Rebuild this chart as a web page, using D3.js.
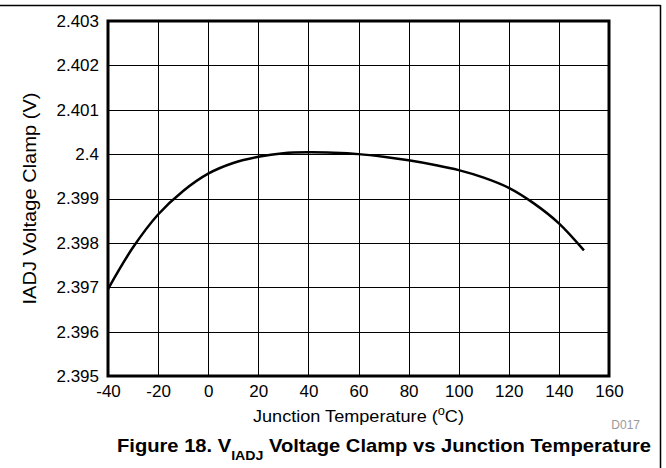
<!DOCTYPE html>
<html>
<head>
<meta charset="utf-8">
<script src="https://cdn.jsdelivr.net/npm/d3@7"></script>
<style>
body { margin: 0; background: #fff; }
text { font-family: "Liberation Sans", Arial, sans-serif; }
</style>
</head>
<body>
<script>
var W = 666, H = 468;
var margin = { top: 21, right: 57, bottom: 92, left: 108 };
var w = W - margin.left - margin.right;
var h = H - margin.top - margin.bottom;

// data
var temps = [-40, -30, -20, -10, 0, 10, 20, 30, 40, 50, 60, 70, 80, 90, 100, 110, 120, 130, 140, 150];
var clamp = [2.39696, 2.39790, 2.39864, 2.39917, 2.39956, 2.39980, 2.39994, 2.40002, 2.40004, 2.40003,
             2.40000, 2.39994, 2.39986, 2.39976, 2.39964, 2.39947, 2.39924, 2.39889, 2.39844, 2.39783];
var xTicks = [-40, -20, 0, 20, 40, 60, 80, 100, 120, 140, 160];
var yTicks = [2.395, 2.396, 2.397, 2.398, 2.399, 2.4, 2.401, 2.402, 2.403];

var svgRoot = d3.select("body").append("svg")
    .attr("width", W)
    .attr("height", H);

// page frame (top and right rules)
svgRoot.append("line").attr("x1", 0).attr("x2", 660.5).attr("y1", 5.5).attr("y2", 5.5)
    .attr("stroke", "#000").attr("stroke-width", 1.5);
svgRoot.append("line").attr("x1", 660.5).attr("x2", 660.5).attr("y1", 5).attr("y2", H)
    .attr("stroke", "#000").attr("stroke-width", 1.5);

var svg = svgRoot.append("g")
    .attr("transform", "translate(" + margin.left + "," + margin.top + ")");

var xScale = d3.scaleLinear().domain([-40, 160]).range([0, w]);
var yScale = d3.scaleLinear().domain([2.395, 2.403]).range([h, 0]);

// grid
svg.selectAll(".vgrid").data(xTicks).enter().append("line")
    .attr("x1", function (d) { return Math.round(xScale(d)) + 0.5; })
    .attr("x2", function (d) { return Math.round(xScale(d)) + 0.5; })
    .attr("y1", 0).attr("y2", h)
    .attr("stroke", "#000").attr("stroke-width", 1);
svg.selectAll(".hgrid").data(yTicks).enter().append("line")
    .attr("x1", 0).attr("x2", w)
    .attr("y1", function (d) { return Math.round(yScale(d)) + 0.5; })
    .attr("y2", function (d) { return Math.round(yScale(d)) + 0.5; })
    .attr("stroke", "#000").attr("stroke-width", 1);

// axes (labels only)
var xAxis = d3.axisBottom(xScale).tickValues(xTicks).tickSize(0).tickPadding(9)
    .tickFormat(function (d) { return d; });
svg.append("g").attr("transform", "translate(0," + h + ")").call(xAxis)
    .call(function (g) { g.select(".domain").remove(); })
    .selectAll("text").attr("font-size", 17).attr("fill", "#000")
    .attr("font-family", "Liberation Sans, Arial, sans-serif");

var yAxis = d3.axisLeft(yScale).tickValues(yTicks).tickSize(0).tickPadding(9)
    .tickFormat(function (d) { return d3.format("")(+d.toFixed(3)); });
svg.append("g").call(yAxis)
    .call(function (g) { g.select(".domain").remove(); })
    .selectAll("text").attr("font-size", 17).attr("fill", "#000")
    .attr("font-family", "Liberation Sans, Arial, sans-serif");

// plot border
svg.append("rect").attr("x", 0).attr("y", 0).attr("width", w).attr("height", h)
    .attr("fill", "none").attr("stroke", "#000").attr("stroke-width", 3);

// curve
var line = d3.line()
    .x(function (d, i) { return xScale(temps[i]); })
    .y(function (d) { return yScale(d); })
    .curve(d3.curveCatmullRom.alpha(0.5));
svg.append("path").datum(clamp)
    .attr("d", line)
    .attr("fill", "none").attr("stroke", "#000").attr("stroke-width", 2.5);

// axis titles
svg.append("text")
    .attr("x", w / 2).attr("y", h + 46)
    .attr("text-anchor", "middle").attr("font-size", 17)
    .attr("textLength", 211).attr("lengthAdjust", "spacingAndGlyphs")
    .html('Junction Temperature (<tspan baseline-shift="super" font-size="12">o</tspan>C)');

svg.append("text")
    .attr("transform", "translate(" + (-72) + "," + (h / 2) + ") rotate(-90)")
    .attr("text-anchor", "middle").attr("font-size", 18.5)
    .attr("textLength", 212).attr("lengthAdjust", "spacingAndGlyphs")
    .text("IADJ Voltage Clamp (V)");

svgRoot.append("text")
    .attr("x", 640).attr("y", 429)
    .attr("text-anchor", "end").attr("font-size", 12).attr("fill", "#999")
    .text("D017");

svgRoot.append("text")
    .attr("x", 117).attr("y", 452)
    .attr("font-size", 18.5).attr("font-weight", "bold")
    .attr("textLength", 534).attr("lengthAdjust", "spacingAndGlyphs")
    .html('Figure 18. V<tspan baseline-shift="sub" font-size="13">IADJ</tspan> Voltage Clamp vs Junction Temperature');
</script>
</body>
</html>
